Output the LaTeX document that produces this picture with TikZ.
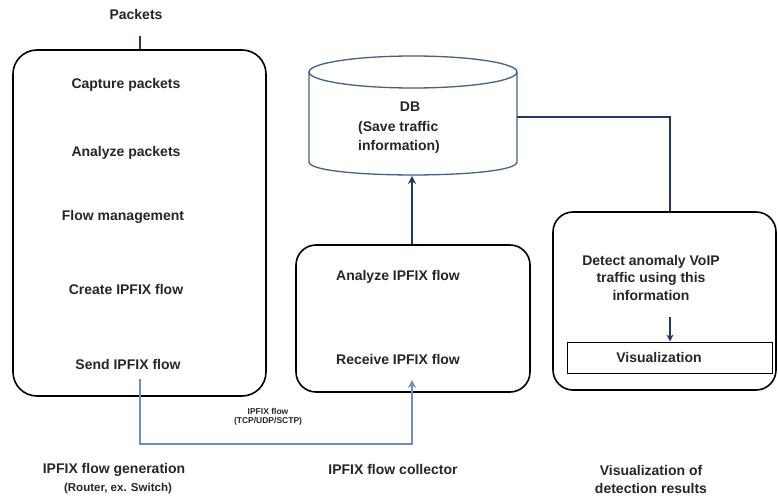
\documentclass[tikz,border=0pt]{standalone}
\usepackage{fontspec}
\setmainfont{Liberation Sans}
\usetikzlibrary{arrows.meta}
\definecolor{navy}{HTML}{1F3864}
\definecolor{dbblue}{HTML}{41608C}
\definecolor{lightblue}{HTML}{6A8FCB}
\begin{document}
\begin{tikzpicture}[x=1pt,y=-1pt,
  lbl/.style={font=\fontsize{14}{17.5}\selectfont\bfseries, inner sep=1pt, text=black!85},
  small/.style={font=\fontsize{11.5}{13}\selectfont\bfseries, inner sep=1pt, text=black!85},
  tiny/.style={font=\fontsize{8.5}{9}\selectfont\bfseries, inner sep=0pt, align=center, text=black!85},
  bigbox/.style={draw=black, line width=1.6pt, rounded corners=24pt, inner sep=0pt},
  plainbox/.style={draw=black, line width=1pt, inner sep=0pt},
  navyline/.style={draw=navy, line width=2pt},
  blueline/.style={draw=lightblue, line width=1.6pt},
  tip/.style={-{Stealth[length=8pt,width=8pt]}}
]
\useasboundingbox (0,0) rectangle (778,497);

% ---- left column ----
\node[lbl] (packets) at (136,14) {Packets};
\node[bigbox, minimum width=253pt, minimum height=346pt] (gen) at (139.5,223) {};
\node[lbl] (t1) at (126,85) {Capture packets};
\node[lbl] (t2) at (126,153) {Analyze packets};
\node[lbl] (t3) at (123,217) {Flow management};
\node[lbl] (t4) at (126,289) {Create IPFIX flow};
\node[lbl] (t5) at (128,364) {Send IPFIX flow};
\coordinate (pk) at (140,36);
\draw[navyline, line width=1.6pt] (pk) -- (pk |- gen.north);

\node[lbl] (genlbl) at (114,470) {IPFIX flow generation};
\node[small] (genlbl2) at (118,489) {(Router, ex. Switch)};

% ---- middle column ----
\node[bigbox, rounded corners=20pt, minimum width=234pt, minimum height=147pt] (col) at (413,318.5) {};
\node[lbl] (m1) at (398,277) {Analyze IPFIX flow};
\node[lbl] (m2) at (398,359) {Receive IPFIX flow};
\node[lbl] (collbl) at (393,469) {IPFIX flow collector};

% DB cylinder
\node[inner sep=0pt, minimum width=208pt, minimum height=119pt] (db) at (413,115.5) {};
\draw[dbblue, line width=1.3pt] (309,72) -- (309,162) .. controls (309,179.3) and (517,179.3) .. (517,162) -- (517,72);
\draw[dbblue, line width=1.3pt] (413,72) ellipse [x radius=104pt, y radius=16pt];
\node[lbl] (dbt) at (410,107) {DB};
\node[lbl, anchor=west, align=left, font=\fontsize{14}{19}\selectfont\bfseries] (dbt2) at (357,137) {(Save traffic\\information)};

\draw[navyline, tip] (col.north -| 412,0) -- (412,176);

% IPFIX connector
\coordinate (s1) at (140,379);
\coordinate (s2) at (140,444);
\coordinate (s3) at (412,444);
\coordinate (r1) at (412,380);
\draw[blueline, tip] (s1) -- (s2) -- (s3) -- (r1);
\node[tiny] (proto) at (268,417) {IPFIX flow\\(TCP/UDP/SCTP)};

% ---- right column ----
\node[bigbox, rounded corners=20pt, minimum width=223pt, minimum height=178pt] (vis) at (664.5,301) {};
\node[lbl, align=center] (d1) at (651,277.5) {Detect anomaly VoIP\\traffic using this\\information};
\node[plainbox, minimum width=205pt, minimum height=31pt] (vbox) at (669.5,357.5) {};
\node[lbl] (vtext) at (659,357.5) {Visualization};
\coordinate (a1) at (670,317);
\draw[navyline, line width=1.4pt, -{Stealth[length=7pt,width=7pt]}] (a1) -- (vbox.north -| a1);

\coordinate (c1) at (670,117);
\draw[navyline] (db.east |- c1) -- (c1) -- (vis.north -| c1);

\node[lbl, align=center] (vislbl) at (651,479.5) {Visualization of\\detection results};
\end{tikzpicture}
\end{document}
